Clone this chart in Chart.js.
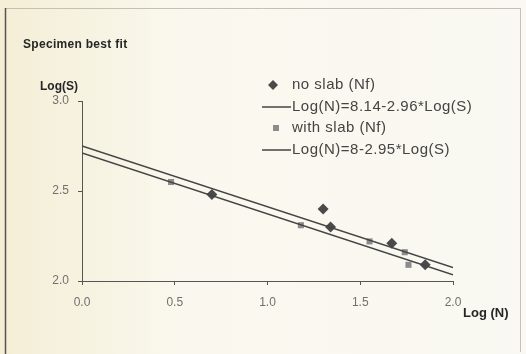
<!DOCTYPE html>
<html>
<head>
<meta charset="utf-8">
<script src="https://cdn.jsdelivr.net/npm/chart.js@4.4.1/dist/chart.umd.min.js"></script>
<style>
  html, body { margin: 0; padding: 0; background: #f6f2e0; }
  #wrap { width: 526px; height: 354px; }
</style>
</head>
<body>
<div id="wrap"><canvas id="fitChart" width="526" height="354"></canvas></div>
<script>
// measured points, Log(N) against Log(S)
const noSlabX = [0.70, 1.30, 1.34, 1.67, 1.85];
const noSlabY = [2.48, 2.40, 2.30, 2.21, 2.09];
const slabX = [0.48, 1.18, 1.55, 1.74, 1.76];
const slabY = [2.55, 2.31, 2.22, 2.16, 2.09];

// best fit lines Log(N) = a - b*Log(S)
const fitIntercept = [8.14, 8];
const fitSlope = [2.96, 2.95];
const fitRange = [0, 2.0];

const xTicks = [0, 0.5, 1.0, 1.5, 2.0];
const yTicks = [2.0, 2.5, 3.0];

const legendLabels = ['no slab (Nf)', 'Log(N)=8.14-2.96*Log(S)', 'with slab (Nf)', 'Log(N)=8-2.95*Log(S)'];

const pts = (xs, ys) => xs.map((x, i) => ({ x: x, y: ys[i] }));
const fitLine = i => fitRange.map(n => ({ x: n, y: (fitIntercept[i] - n) / fitSlope[i] }));

const DIAMOND = '#4a4a4a';
const SQUARE = '#8c8c8c';
const LINE = '#444';
const FONT = '"Liberation Sans", Arial, sans-serif';

// background, frame and the hand placed texts
const decor = {
    id: 'decor',
    beforeDraw(chart) {
        const c = chart.ctx;
        c.save();
        const g = c.createLinearGradient(0, 0, 526, 0);
        g.addColorStop(0, '#f4eed6');
        g.addColorStop(0.35, '#faf8ee');
        g.addColorStop(1, '#f9f8f2');
        c.fillStyle = g;
        c.fillRect(0, 0, 526, 354);
        c.strokeStyle = '#c4c0b4';
        c.lineWidth = 1;
        c.beginPath();
        c.moveTo(5, 8.5); c.lineTo(520, 8.5);
        c.moveTo(520.5, 8); c.lineTo(520.5, 352);
        c.stroke();
        c.strokeStyle = '#555';
        c.lineWidth = 1.5;
        c.beginPath();
        c.moveTo(5.5, 8); c.lineTo(5.5, 354);
        c.stroke();
        c.restore();
    },
    afterDraw(chart) {
        const c = chart.ctx;
        c.save();
        c.fillStyle = '#262626';
        c.textBaseline = 'middle';
        c.letterSpacing = '0.3px';
        c.font = 'bold 12px ' + FONT;
        c.fillText('Specimen best fit', 23, 45);
        c.letterSpacing = '0px';
        c.fillText('Log(S)', 40, 87);
        c.font = 'bold 13px ' + FONT;
        c.fillText('Log (N)', 463, 313);

        // legend
        const rows = [85, 107, 128, 150];
        c.font = '15px ' + FONT;
        c.letterSpacing = '0.5px';
        c.fillStyle = '#444';
        legendLabels.forEach((t, i) => c.fillText(t, 292, rows[i]));
        c.letterSpacing = '0px';

        c.fillStyle = DIAMOND;
        c.beginPath();
        c.moveTo(273, rows[0] - 5); c.lineTo(278, rows[0]);
        c.lineTo(273, rows[0] + 5); c.lineTo(268, rows[0]);
        c.closePath(); c.fill();

        c.fillStyle = SQUARE;
        c.fillRect(273, rows[2] - 3, 6, 6);

        c.strokeStyle = LINE;
        c.lineWidth = 1.5;
        [rows[1], rows[3]].forEach(y => {
            c.beginPath(); c.moveTo(262, y); c.lineTo(291, y); c.stroke();
        });
        c.restore();
    }
};

const ctx = document.getElementById('fitChart').getContext('2d');
const fitChart = new Chart(ctx, {
    type: 'scatter',
    data: {
        datasets: [{
            label: legendLabels[1],
            data: fitLine(0),
            showLine: true,
            borderColor: LINE,
            borderWidth: 1.5,
            pointRadius: 0
        }, {
            label: legendLabels[3],
            data: fitLine(1),
            showLine: true,
            borderColor: LINE,
            borderWidth: 1.5,
            pointRadius: 0
        }, {
            label: legendLabels[2],
            data: pts(slabX, slabY),
            pointStyle: 'rect',
            pointRadius: 4.3,
            backgroundColor: SQUARE,
            borderColor: SQUARE,
            borderWidth: 0
        }, {
            label: legendLabels[0],
            data: pts(noSlabX, noSlabY),
            pointStyle: 'rectRot',
            pointRadius: 5.5,
            backgroundColor: DIAMOND,
            borderColor: DIAMOND,
            borderWidth: 0
        }]
    },
    options: {
        responsive: false,
        animation: false,
        layout: { padding: { left: 0, top: 101, right: 73, bottom: 0 } },
        plugins: {
            legend: { display: false },
            tooltip: { enabled: false }
        },
        scales: {
            x: {
                type: 'linear',
                min: 0,
                max: 2.0,
                afterFit: s => { s.height = 73; },
                afterBuildTicks: s => { s.ticks = xTicks.map(v => ({ value: v })); },
                ticks: {
                    color: '#707070',
                    padding: 10,
                    font: { size: 12, family: FONT },
                    callback: v => v.toFixed(1)
                },
                grid: { drawOnChartArea: false, tickLength: 4, color: '#555' },
                border: { color: '#555', width: 1 }
            },
            y: {
                type: 'linear',
                min: 2.0,
                max: 3.0,
                afterFit: s => { s.width = 82; },
                afterBuildTicks: s => { s.ticks = yTicks.map(v => ({ value: v })); },
                ticks: {
                    color: '#707070',
                    padding: 9,
                    font: { size: 12, family: FONT },
                    callback: v => v.toFixed(1)
                },
                grid: { drawOnChartArea: false, tickLength: 4, color: '#555' },
                border: { color: '#555', width: 1 }
            }
        }
    },
    plugins: [decor]
});
</script>
</body>
</html>
